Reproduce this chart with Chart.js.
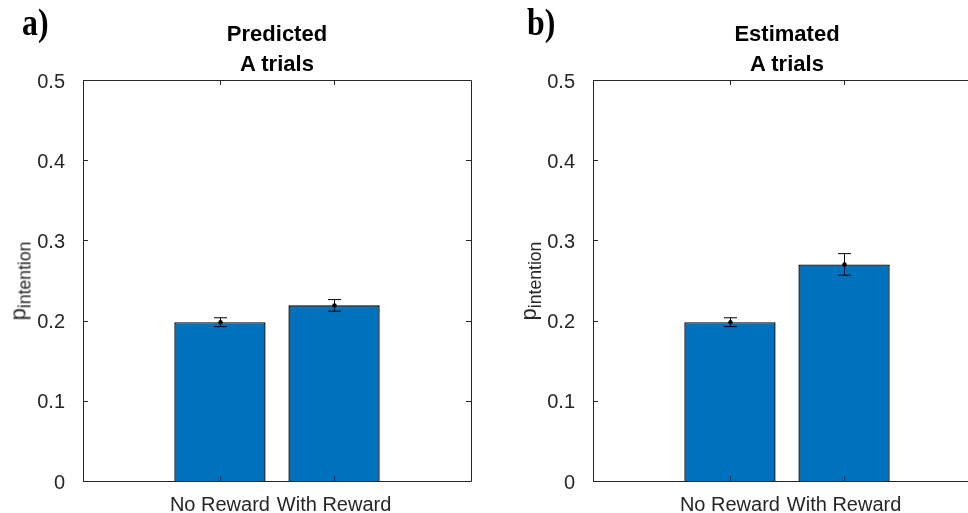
<!DOCTYPE html>
<html>
<head>
<meta charset="utf-8">
<script src="https://cdn.jsdelivr.net/npm/chart.js@4.4.1/dist/chart.umd.min.js"></script>
<style>
  html, body { margin: 0; padding: 0; background: #fff; }
  body { width: 968px; height: 513px; overflow: hidden; position: relative; font-family: "Liberation Sans", Arial, sans-serif; }
  .panel { position: absolute; top: 0; width: 484px; height: 513px; }
  .panel canvas { position: absolute; left: 0; top: 0; }
  .letter { position: absolute; top: 4px; font-family: "Liberation Serif", "Times New Roman", serif; font-weight: bold; font-size: 37px; line-height: 37px; color: #000; transform: scaleX(0.86); transform-origin: left top; }
  .title { position: absolute; top: 19px; width: 300px; text-align: center; font-weight: bold; font-size: 22px; line-height: 30px; color: #000; }
  .ylabel { position: absolute; top: 281px; font-size: 22px; line-height: 22px; color: #262626; white-space: nowrap; transform: translate(-50%, -50%) rotate(-90deg); }
  .ylabel span { font-size: 17.6px; position: relative; top: 5px; }
</style>
</head>
<body>
<div class="panel" id="panelA" style="left:0px">
  <canvas id="chartA" width="484" height="513"></canvas>
  <div class="ylabel" style="left:19px">p<span>intention</span></div>
  <div class="title" style="left:127px">Predicted<br>A trials</div>
</div>
<div class="panel" id="panelB" style="left:510px">
  <canvas id="chartB" width="484" height="513"></canvas>
  <div class="ylabel" style="left:19px">p<span>intention</span></div>
  <div class="title" style="left:127px">Estimated<br>A trials</div>
</div>
<div class="letter" style="left:22px">a)</div>
<div class="letter" style="left:527px">b)</div>

<script>
const categories = ["No Reward", "With Reward"]
const barPositions = [1, 2]
const predictedMeans = [0.198, 0.219]
const predictedErrors = [0.0055, 0.0072]
const estimatedMeans = [0.198, 0.270]
const estimatedErrors = [0.0055, 0.0135]
const yTicks = [0, 0.1, 0.2, 0.3, 0.4, 0.5]

const axisColor = "#262626"
const barColor = "#0072BD"

// box round the plot with ticks pointing inward, like matlab
const boxPlugin = {
  id: "box",
  afterDraw(chart) {
    const { ctx, chartArea: a, scales } = chart
    const tl = 5
    ctx.save()
    ctx.strokeStyle = axisColor
    ctx.lineWidth = 1
    ctx.beginPath()
    ctx.rect(a.left + 0.5, a.top + 0.5, a.right - a.left, a.bottom - a.top)
    scales.y.ticks.forEach((t) => {
      const y = Math.round(scales.y.getPixelForValue(t.value)) + 0.5
      ctx.moveTo(a.left, y)
      ctx.lineTo(a.left + tl, y)
      ctx.moveTo(a.right, y)
      ctx.lineTo(a.right - tl, y)
    })
    scales.x.ticks.forEach((t) => {
      const x = Math.round(scales.x.getPixelForValue(t.value)) + 0.5
      ctx.moveTo(x, a.bottom)
      ctx.lineTo(x, a.bottom - tl)
      ctx.moveTo(x, a.top)
      ctx.lineTo(x, a.top + tl)
    })
    ctx.stroke()
    ctx.restore()
  },
}

// error bars with a dot on the mean
const errorBarPlugin = {
  id: "errorBars",
  afterDatasetsDraw(chart, args, opts) {
    const { ctx, scales } = chart
    const cap = 6.5
    ctx.save()
    ctx.strokeStyle = "#000"
    ctx.fillStyle = "#000"
    ctx.lineWidth = 1
    opts.means.forEach((m, i) => {
      const x = Math.round(scales.x.getPixelForValue(barPositions[i])) + 0.5
      const yHi = scales.y.getPixelForValue(m + opts.errors[i])
      const yLo = scales.y.getPixelForValue(m - opts.errors[i])
      const yM = scales.y.getPixelForValue(m)
      ctx.beginPath()
      ctx.moveTo(x, yHi)
      ctx.lineTo(x, yLo)
      ctx.moveTo(x - cap, yHi)
      ctx.lineTo(x + cap, yHi)
      ctx.moveTo(x - cap, yLo)
      ctx.lineTo(x + cap, yLo)
      ctx.stroke()
      ctx.beginPath()
      ctx.arc(x, yM, 2.2, 0, Math.PI * 2)
      ctx.fill()
    })
    ctx.restore()
  },
}

function makeChart(canvasId, means, errors) {
  const ctx = document.getElementById(canvasId).getContext("2d")
  return new Chart(ctx, {
    type: "bar",
    data: {
      datasets: [
        {
          data: barPositions.map((x, i) => ({ x: x, y: means[i] })),
          backgroundColor: barColor,
          borderColor: "#000",
          borderWidth: 1.4,
          barPercentage: 0.8,
          categoryPercentage: 1,
        },
      ],
    },
    options: {
      responsive: false,
      animation: false,
      layout: { padding: { left: 0, right: 13, top: 80, bottom: 0 } },
      plugins: {
        legend: { display: false },
        tooltip: { enabled: false },
        errorBars: { means: means, errors: errors },
      },
      scales: {
        x: {
          type: "linear",
          min: -0.2,
          max: 3.2,
          offset: false,
          grid: { display: false, offset: false },
          border: { display: false },
          afterBuildTicks: (scale) => {
            scale.ticks = barPositions.map((v) => ({ value: v }))
          },
          afterFit: (scale) => {
            scale.height = 32
          },
          ticks: {
            padding: 4,
            color: axisColor,
            font: { family: "'Liberation Sans', Arial, sans-serif", size: 20 },
            maxRotation: 0,
            autoSkip: false,
            callback: (v) => categories[barPositions.indexOf(v)],
          },
        },
        y: {
          min: 0,
          max: 0.5,
          grid: { display: false },
          border: { display: false },
          afterBuildTicks: (scale) => {
            scale.ticks = yTicks.map((v) => ({ value: v }))
          },
          afterFit: (scale) => {
            scale.width = 83
          },
          ticks: {
            padding: 10,
            labelOffset: 2,
            color: axisColor,
            font: { family: "'Liberation Sans', Arial, sans-serif", size: 20 },
            callback: (v) => String(+v.toFixed(1)),
          },
        },
      },
    },
    plugins: [boxPlugin, errorBarPlugin],
  })
}

makeChart("chartA", predictedMeans, predictedErrors)
makeChart("chartB", estimatedMeans, estimatedErrors)
</script>
</body>
</html>
